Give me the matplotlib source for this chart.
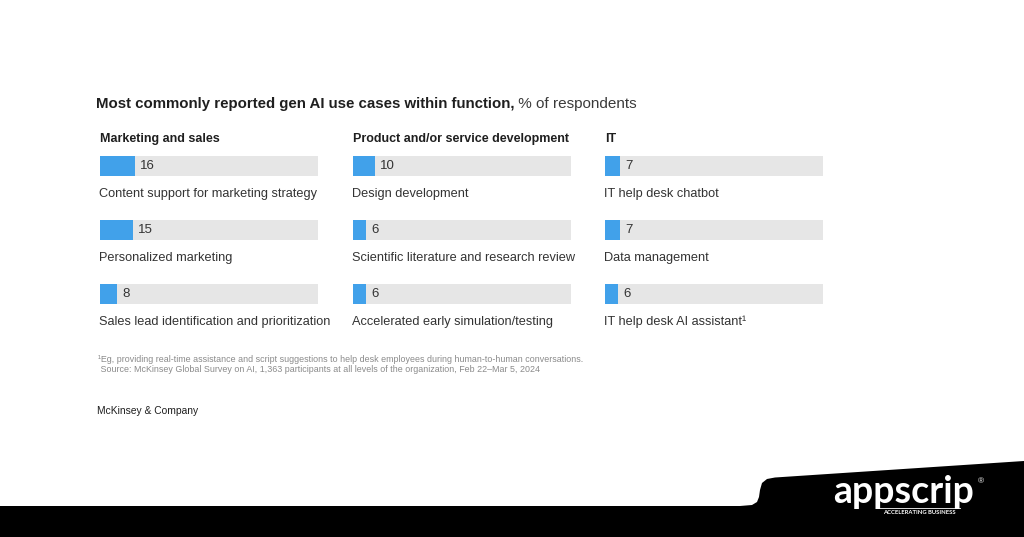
import matplotlib

matplotlib.use("Agg")
import matplotlib.pyplot as plt
from matplotlib.patches import Polygon
import numpy as np

plt.rcParams["font.family"] = ["Liberation Sans", "DejaVu Sans"]

# data, % of respondents
functions = ["Marketing and sales", "Product and/or service development", "IT"]
marketing_cases = [
    "Content support for marketing strategy",
    "Personalized marketing",
    "Sales lead identification and prioritization",
]
marketing_vals = [16, 15, 8]
product_cases = [
    "Design development",
    "Scientific literature and research review",
    "Accelerated early simulation/testing",
]
product_vals = [10, 6, 6]
it_cases = ["IT help desk chatbot", "Data management", "IT help desk AI assistant\u00b9"]
it_vals = [7, 7, 6]

W, H = 1024, 537
BLUE = "#41a1ea"
TRACK = "#e6e6e6"
INK = "#1f1f1f"

fig = plt.figure(figsize=(W / 100, H / 100), dpi=100)
fig.patch.set_facecolor("white")

# page-level axes in pixel coords for titles, notes and the banner
bg = fig.add_axes([0, 0, 1, 1])
bg.set_xlim(0, W)
bg.set_ylim(H, 0)
bg.axis("off")

t1 = bg.text(96, 104, "Most commonly reported gen AI use cases within function,",
             fontsize=10.85, fontweight="bold", color=INK, va="center", ha="left")
bg.annotate(" % of respondents", xy=(1, 0), xycoords=t1, va="bottom", ha="left",
            fontsize=11, color="#3a3a3a")


def pxbox(x0, y0, w, h):
    return [x0 / W, 1 - (y0 + h) / H, w / W, h / H]


cols = [
    (100, functions[0], marketing_cases, marketing_vals),
    (353, functions[1], product_cases, product_vals),
    (605, functions[2], it_cases, it_vals),
]
for left, head, cases, vals in cols:
    ax = fig.add_axes(pxbox(left, 134, 218, 192))
    ax.set_xlim(0, 100)
    ax.set_ylim(2.5, -0.5)
    ax.axis("off")
    rows = np.arange(len(vals))
    ax.barh(rows, [100] * len(vals), height=0.3, color=TRACK, left=0)
    ax.barh(rows, vals, height=0.3, color=BLUE)
    for r, v, lab in zip(rows, vals, cases):
        ax.annotate(str(v), xy=(v, r), xytext=(3.5, 0), textcoords="offset points",
                    va="center", ha="left", fontsize=9.5, color="#333333")
        ax.text(-0.4, r + 0.44, lab, va="center", ha="left", fontsize=9.2,
                color="#333333", clip_on=False)
    ax.text(0, -0.42, head, va="center", ha="left", fontsize=9.0,
            fontweight="bold", color=INK, clip_on=False)

bg.text(98, 359, "\u00b9Eg, providing real-time assistance and script suggestions to help desk "
        "employees during human-to-human conversations.",
        fontsize=6.4, color="#8a8a8a", va="center", ha="left")
bg.text(98, 370, " Source: McKinsey Global Survey on AI, 1,363 participants at all levels of "
        "the organization, Feb 22\u2013Mar 5, 2024",
        fontsize=6.4, color="#8a8a8a", va="center", ha="left")
bg.text(97, 411, "McKinsey & Company", fontsize=7.4, color=INK, va="center", ha="left")

# black banner with the logo
bx = [0, 0, 740, 752, 757, 759, 760, 762, 767, 775, 1024, 1024]
by = [H, 506, 506, 505, 502, 497, 490, 483, 479, 477.5, 461, H]
bg.add_patch(Polygon(np.column_stack([bx, by]), closed=True, color="black", lw=0))
bg.text(904, 492, "appscrip", fontsize=27, fontweight="bold", color="white",
        ha="center", va="center", family=["Lato", "DejaVu Sans"])
bg.text(919, 512, "ACCELERATING BUSINESS", fontsize=4.2, fontweight="bold", color="white",
        ha="center", va="center", family=["Lato", "DejaVu Sans"])
bg.plot([878, 960], [507.5, 507.5], color="white", lw=0.6)
bg.text(981, 482, "\u00ae", fontsize=6, color="white", ha="center", va="center")

fig.savefig("out.png", dpi=100, facecolor="white")
